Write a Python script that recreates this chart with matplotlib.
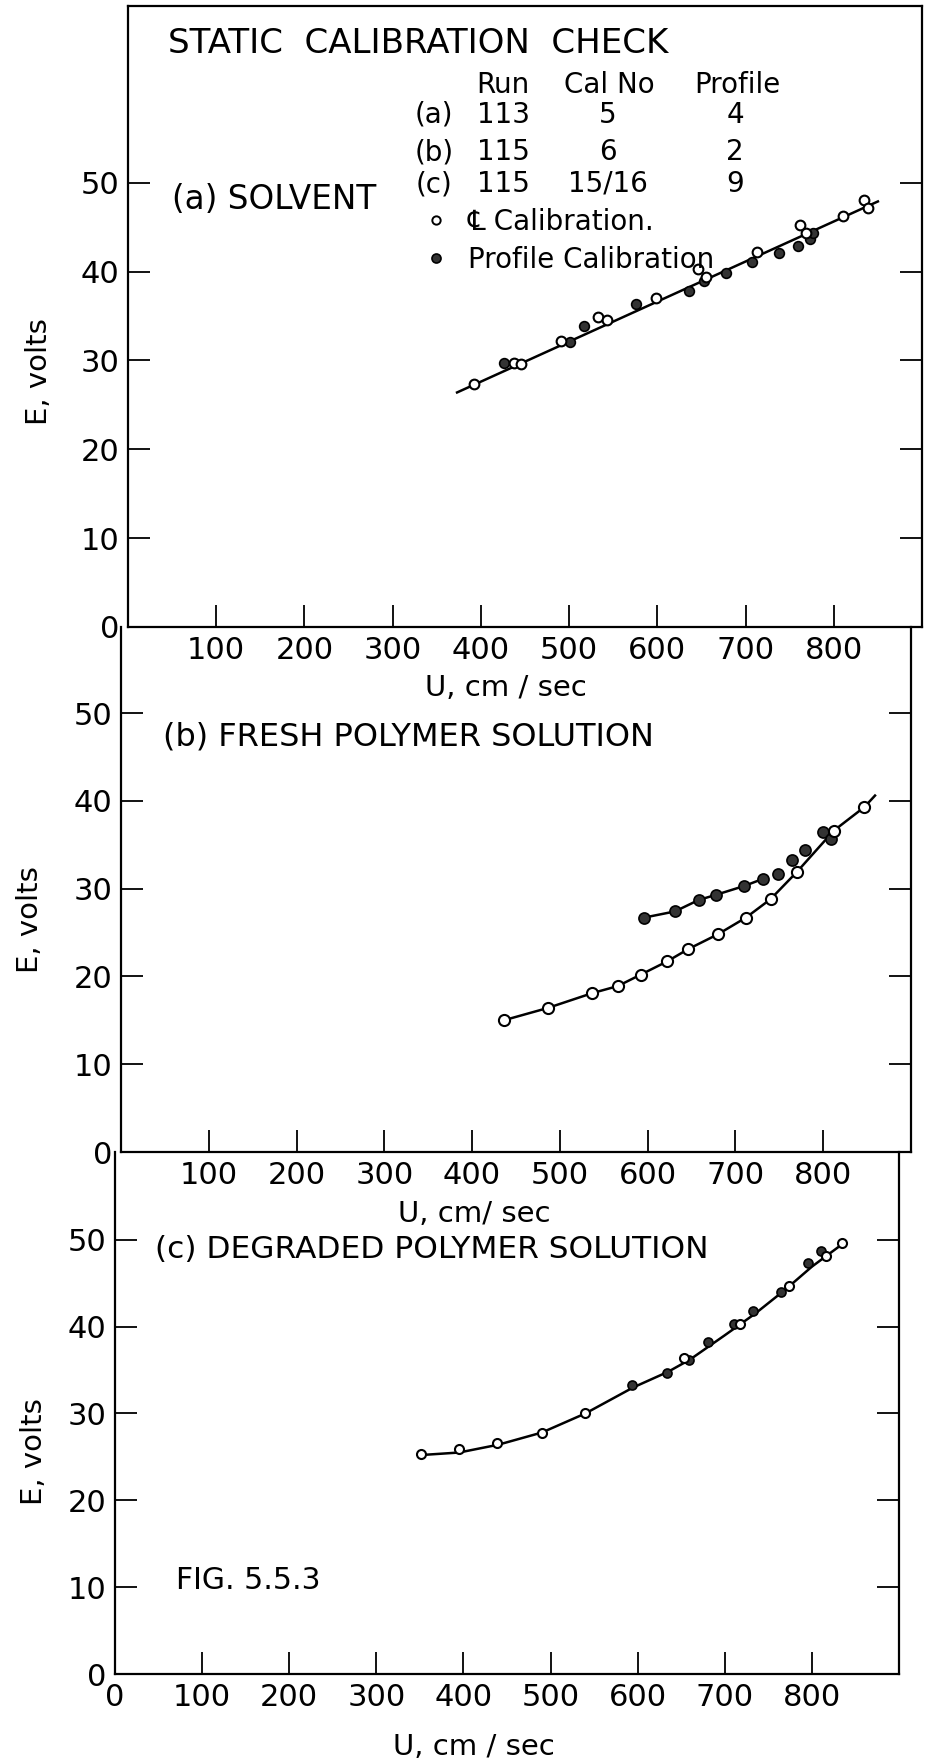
import matplotlib
matplotlib.use("Agg")
import matplotlib.pyplot as plt
from matplotlib.lines import Line2D

plt.rcParams['font.family'] = ['DejaVu Sans']

# (a) solvent, run 113
sol_open_u = [392, 437, 445, 491, 533, 543, 599, 646, 655, 713, 762, 768, 811, 834, 839]
sol_open_e = [27.4, 29.7, 29.6, 32.2, 34.9, 34.5, 37.0, 40.3, 39.4, 42.2, 45.2, 44.4, 46.3, 48.1, 47.2]
sol_fill_u = [426, 501, 517, 576, 636, 653, 678, 707, 738, 759, 773, 777]
sol_fill_e = [29.7, 32.1, 33.9, 36.4, 37.8, 39.0, 39.9, 41.1, 42.1, 42.9, 43.7, 44.4]
sol_fit_u = [373, 850]
sol_fit_e = [26.4, 47.9]

# (b) fresh polymer solution, run 115
fresh_open_u = [436, 486, 537, 566, 592, 622, 646, 680, 712, 740, 770, 812, 847]
fresh_open_e = [15.0, 16.4, 18.1, 18.9, 20.2, 21.7, 23.1, 24.8, 26.7, 28.8, 31.9, 36.6, 39.3]
fresh_fill_u = [596, 631, 658, 678, 710, 731, 749, 764, 779, 800, 809]
fresh_fill_e = [26.7, 27.4, 28.7, 29.3, 30.3, 31.1, 31.7, 33.3, 34.4, 36.5, 35.7]
fresh_fit1_u = [436, 486, 537, 566, 592, 622, 646, 680, 712, 740, 770, 812, 847, 859]
fresh_fit1_e = [15.0, 16.4, 18.1, 18.9, 20.2, 21.7, 23.1, 24.8, 26.7, 28.8, 31.9, 36.6, 39.3, 40.6]
fresh_fit2_u = [596, 631, 658, 678, 710, 731]
fresh_fit2_e = [26.7, 27.4, 28.7, 29.3, 30.3, 31.1]

# (c) degraded polymer solution, run 115
deg_open_u = [351, 395, 438, 490, 539, 653, 717, 774, 816, 834]
deg_open_e = [25.3, 25.9, 26.6, 27.8, 30.1, 36.4, 40.3, 44.7, 48.1, 49.6]
deg_fill_u = [594, 634, 659, 681, 711, 732, 765, 795, 810]
deg_fill_e = [33.3, 34.6, 36.1, 38.2, 40.3, 41.8, 44.0, 47.3, 48.7]
deg_fit_u = [350, 395, 440, 490, 540, 595, 635, 660, 700, 735, 770, 800, 835]
deg_fit_e = [25.2, 25.5, 26.4, 27.8, 30.0, 33.0, 34.8, 36.2, 39.0, 41.5, 44.3, 46.9, 49.5]

u_ticks = [100, 200, 300, 400, 500, 600, 700, 800]
e_ticks = [0, 10, 20, 30, 40, 50]

W, H = 926, 1763
fig = plt.figure(figsize=(W / 100, H / 100), dpi=100)


def box(left, right, top, bottom):
    return [left / W, 1 - bottom / H, (right - left) / W, (bottom - top) / H]


def fx(x):
    return x / W


def fy(y):
    return 1 - y / H


ax_a = fig.add_axes(box(128, 922, 6, 627))
ax_b = fig.add_axes(box(121, 911, 627, 1152))
ax_c = fig.add_axes(box(115, 899, 1152, 1674))


def style(ax, ymax, xticks, xlabel, xlab_pos, ylab_pos, top):
    ax.set_facecolor('none')
    ax.set_xlim(0, 900)
    ax.set_ylim(0, ymax)
    ax.set_xticks(xticks)
    ax.set_xticklabels([str(v) for v in xticks])
    ax.set_yticks(e_ticks)
    ax.set_yticklabels([str(v) for v in e_ticks])
    ax.tick_params(direction='in', length=16, width=1.3, labelsize=22, right=True)
    ax.tick_params(axis='x', pad=6.5)
    ax.tick_params(axis='y', pad=6)
    for s in ax.spines.values():
        s.set_linewidth(1.6)
    ax.spines['top'].set_visible(top)
    ax.set_xlabel(xlabel, fontsize=21, va='center')
    ax.xaxis.set_label_coords(*xlab_pos)
    ax.set_ylabel('E, volts', fontsize=21, va='center')
    ax.yaxis.set_label_coords(*ylab_pos)


def pts(ax, u, e, filled, ms):
    if filled:
        ax.plot(u, e, ls='none', marker='o', ms=ms, mfc='#333333', mec='black', mew=1.2, zorder=3)
    else:
        ax.plot(u, e, ls='none', marker='o', ms=ms, mfc='white', mec='black', mew=1.5, zorder=3)


style(ax_a, 69.9, u_ticks, 'U, cm / sec', (428 / 900, -61 / 621), ((39 - 128) / 794, (627 - 372) / 621), True)
style(ax_b, 59.8, u_ticks, 'U, cm/ sec', (403 / 900, -62 / 525), ((30 - 121) / 790, (1152 - 920) / 525), False)
style(ax_c, 60.1, [0] + u_ticks, 'U, cm / sec', (412 / 900, -73 / 522), ((34 - 115) / 784, (1674 - 1452) / 522), False)

# (a)
ax_a.plot(sol_fit_u, sol_fit_e, color='black', lw=1.8, zorder=2)
pts(ax_a, sol_fill_u, sol_fill_e, True, 7)
pts(ax_a, sol_open_u, sol_open_e, False, 7)

# (b)
ax_b.plot(fresh_fit1_u, fresh_fit1_e, color='black', lw=1.8, zorder=2)
ax_b.plot(fresh_fit2_u, fresh_fit2_e, color='black', lw=1.8, zorder=2)
pts(ax_b, fresh_fill_u, fresh_fill_e, True, 8)
pts(ax_b, fresh_open_u, fresh_open_e, False, 8)

# (c)
ax_c.plot(deg_fit_u, deg_fit_e, color='black', lw=1.8, zorder=2)
pts(ax_c, deg_fill_u, deg_fill_e, True, 6.5)
pts(ax_c, deg_open_u, deg_open_e, False, 6.5)

# header and run table
fig.text(fx(168), fy(53), 'STATIC  CALIBRATION  CHECK', fontsize=24.5, va='baseline')
for x, s in [(503, 'Run'), (609, 'Cal No'), (737, 'Profile')]:
    fig.text(fx(x), fy(93), s, fontsize=20, ha='center', va='baseline')
rows = [('(a)', '113', '5', '4'), ('(b)', '115', '6', '2'), ('(c)', '115', '15/16', '9')]
for y, row in zip([123, 160, 192], rows):
    for x, s in zip([434, 503, 608, 735], row):
        fig.text(fx(x), fy(y), s, fontsize=20, ha='center', va='baseline')

handles = [Line2D([], [], ls='none', marker='o', ms=6, mfc='white', mec='black', mew=1.4),
           Line2D([], [], ls='none', marker='o', ms=6.5, mfc='#333333', mec='black', mew=1.2)]
fig.legend(handles, ['\u2104 Calibration.', 'Profile Calibration'], loc='upper left',
           bbox_to_anchor=(fx(425), fy(208)), bbox_transform=fig.transFigure,
           frameon=False, fontsize=20, borderpad=0, borderaxespad=0,
           handlelength=0.8, handletextpad=0.75, labelspacing=0.35)

fig.text(fx(172), fy(209), '(a) SOLVENT', fontsize=23.5, va='baseline')
fig.text(fx(163), fy(746), '(b) FRESH POLYMER SOLUTION', fontsize=23, va='baseline')
fig.text(fx(155), fy(1258), '(c) DEGRADED POLYMER SOLUTION', fontsize=22.5, va='baseline')
fig.text(fx(176), fy(1589), 'FIG. 5.5.3', fontsize=21.5, va='baseline')

fig.savefig('out.png', dpi=100)
